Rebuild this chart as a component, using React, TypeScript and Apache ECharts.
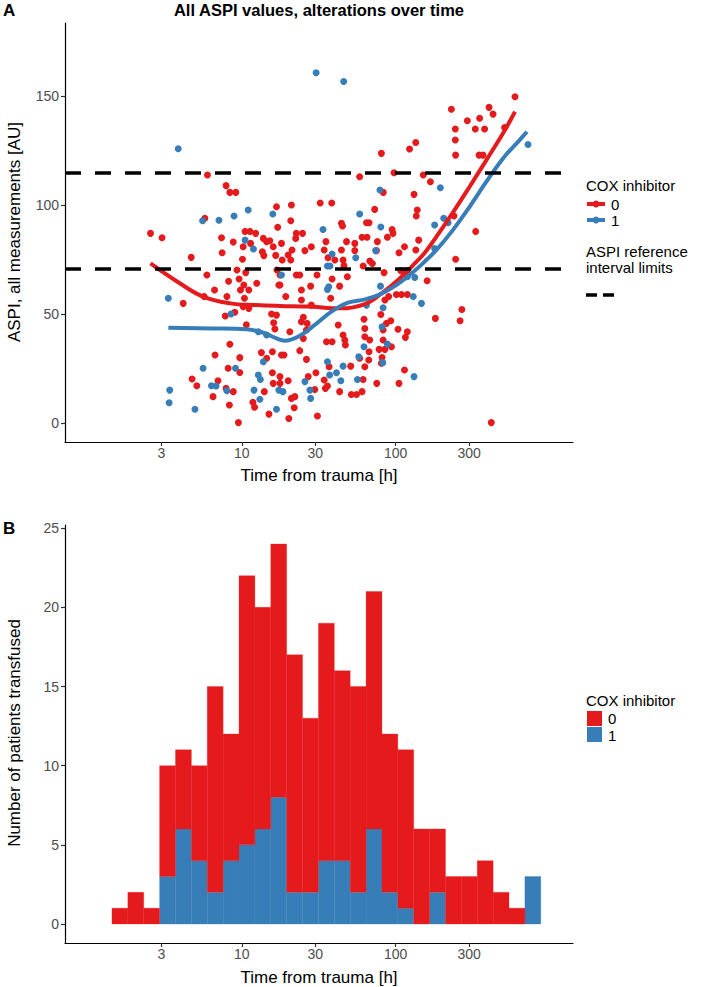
import React, { useEffect, useRef } from "react";
import * as echarts from "echarts";

const RED = "#E41A1C";
const BLUE = "#377EB8";
const FONT = "'Liberation Sans',Arial,Helvetica,sans-serif";

// ---------- Panel A: ASPI values (hours from trauma, ASPI [AU]) ----------
const aspiCox0: [number, number][] = [
  [5.98,113.8],[7.9,108.9],[8.36,105.8],[9.14,105.8],[5.75,93.9],[17.1,89.8],[16.8,99.2],[2.55,87],[3.03,85],[7.38,85],
  [10.5,87.9],[11.3,87.9],[12.3,87],[8.8,83],[11.4,82.4],[13.8,84.7],[14.5,83.2],[15.2,83.6],[13.6,78.6],[16,80.9],
  [7.45,78.1],[10.2,80.9],[16.6,76.9],[4.69,76],[10.1,75.1],[13.9,76.8],[16.9,70.2],[9.3,70.2],[10.6,69],[5.93,67.9],
  [9.6,66.1],[8.2,65],[10.3,63.3],[12.5,64.1],[6.65,61],[9.8,61],[11.1,61],[17.4,63.3],[4.16,54.9],[5.69,58],
  [8,58],[10.4,57.2],[10.2,53.4],[11.1,52.6],[9,50.8],[7.8,49.1],[15.6,50],[16.8,49.5],[16.1,46],[10.7,45.1],
  [16.4,43.1],[8.36,36.1],[6.7,31.2],[9.7,30],[13.4,32.3],[15.8,32.7],[14.5,29.7],[8.15,25.1],[9.7,23.2],[15.8,23.1],
  [4.75,20.2],[7,19.4],[5.1,17.1],[16,18.2],[7.9,15.9],[8.8,14.4],[14,14.4],[6.5,12.1],[11.8,9.5],[12.1,7.2],
  [8.3,8.3],[15,4.1],[9.5,0.2],
  [135,128.7],[123,125.7],[80.7,123.7],[58.3,113],[97.5,114.8],[151,113.8],[83,105.8],[131.5,104.9],[21,100],[32.3,100.9],
  [38.4,100.9],[73,98],[138,97.7],[136,95],[20.8,92.8],[44.4,91.6],[45.1,90.4],[64.6,91.9],[67.1,91.9],[94.7,88.8],
  [96,87],[22.6,87],[24.8,87],[22.4,84.7],[18.1,82.4],[35.2,83.2],[47.9,83.2],[54.2,82.4],[60.4,85.2],[65.1,85.2],
  [76,83.2],[88.3,85.2],[141,83.9],[25.7,79.1],[28.3,80.9],[34.3,79.4],[44.4,79.4],[54.2,79.1],[105,78.1],[114,80.9],
  [135,79.4],[75,79.1],[21.2,79.4],[20,77.1],[18.3,74.8],[20.8,74.8],[36.3,75.8],[40.2,74.8],[45.5,74.8],[67.8,74.3],
  [70.5,73.2],[46.1,72.2],[61.4,72],[17.7,67.9],[22.6,67.9],[23.8,67.9],[30.8,67.9],[38.6,66.1],[48.5,67.1],[84,69],
  [108,69.9],[119,69.9],[17.7,63.3],[19.3,58],[24.4,61],[28,62.8],[43.2,62.8],[24.4,56.4],[28.3,54.1],[37.8,57.2],
  [85,56.4],[90,58],[101,59],[109,59],[119,59],[25.1,48.5],[26.6,45.7],[24.4,46.5],[26.3,42.7],[42.3,45],
  [62.2,47.6],[80,49.8],[92.9,46.9],[86.9,45.7],[82.8,42.7],[103.5,43],[119,41.9],[115.6,39.3],[63,43.4],[20.5,41.9],
  [63,39.6],[45.5,40.4],[46.7,38.1],[47.1,35.8],[35.5,37.3],[38.6,37.3],[25.1,38.8],[67.8,38.1],[82.8,38.1],[93.8,35],
  [85,33.8],[23.8,33.2],[18.1,31.2],[18.8,31.2],[78,33.8],[67.1,32.7],[66.8,28.9],[58.3,29.7],[51,26.1],[26.3,29.2],
  [36.9,25.8],[30.3,23.1],[27,21.3],[63,25.8],[81.5,30.1],[80.7,27.4],[114,24.3],[105,18.2],[75.3,18.2],[61.4,20],
  [34.3,19.7],[36,17],[34.9,15.9],[17.7,21.3],[20,19.4],[17.7,18.2],[21,11.3],[22.1,12.1],[29.8,15.4],[43.2,14.4],
  [51.5,13.1],[55.6,13.1],[60.4,14.4],[31,3.2],[20.2,2.1],[21.9,7],
  [596,149.7],[230,143.9],[404,144.8],[429,141.7],[351,139.8],[292,138.7],[244,134.9],[329,134.9],[378,134.9],[510,135.6],
  [244,129.8],[245,122.9],[348,122.9],[369,122.9],[168,110.7],[239,95],[331,87.9],[245,75.1],[160,65.3],[181,48],
  [269,52.1],[262,46.9],[418,0.2]
];

const aspiCox1: [number, number][] = [
  [3.86,125.8],[11,97.7],[8.9,95],[7.1,93],[5.56,92.8],[15.9,95.9],[10.5,83.9],[11.9,79.8],[3.33,57.2],[8.5,50],
  [12.8,41.9],[14.5,40.4],[13.8,28.1],[5.6,25.1],[9.1,25.1],[12.8,22],[13.2,20],[6.35,17.1],[6.8,17],[8,14.8],
  [12,15.1],[17.4,15.1],[3.4,15.1],[3.37,9.3],[13.1,10.9],[4.96,6.3],[16.8,6.3],
  [30.4,160.7],[45.9,156.7],[79,106.9],[58.3,95.9],[33.7,88.8],[80,89.9],[38.6,77.5],[55,75.8],[74,79.1],
  [36,72],[37.4,72],[18.1,67.9],[119,67.1],[133,66.8],[36,61.3],[36.7,62.5],[130,58],[147,54.9],[79.6,62.8],
  [64.6,54.1],[82.8,52.9],[81.5,44.2],[88.3,36.2],[62.2,35],[57.5,30.4],[36,28.1],[45.5,26.1],[41.2,23.1],[37.2,22],
  [82.4,27.7],[131.5,21.3],[56.4,20],[44,19.4],[25.7,19],[18.5,14.4],[27.7,15.1],[28,11.3],
  [724,127.8],[195,107.9],[179,90.8],[205,93.9],[219,91.9],[179,80.1]
];

// loess smooth curves
const smoothCox0: [number, number][] = [
  [2.55,73.2],[3.95,64.1],[5.6,58],[8.4,54.9],[12.4,54.1],[17.7,53.7],[27,53.4],[44,52.6],[63,54.6],[81,59.5],
  [103.5,65.6],[133,73.2],[154,78],[184,85.5],[235,96.5],[302,108.4],[388,120.6],[498,132.9],[596,142.8]
];
const smoothCox1: [number, number][] = [
  [3.33,43.7],[6.5,43.4],[10.7,43],[13.8,41.4],[16.8,38.8],[19,37.8],[23.2,39.6],[29.8,45],[38.2,51.1],[49,55.2],
  [63,56.7],[77,58.7],[98.6,62.8],[127,68.7],[154,74],[184,79.4],[235,88.5],[302,99.2],[388,110.7],[498,121.4],
  [638,129.8],[713,133.6]
];

const referenceLimits = [71, 115];
const xTickHours = [3, 10, 30, 100, 300];
const yTicksA = [0, 50, 100, 150];
const yTicksB = [0, 5, 10, 15, 20, 25];

// ---------- Panel B: histogram (log10-spaced bins) ----------
const histBinStartLog10 = 0.053;
const histBinWidthLog10 = 0.1032;
const histCox0 = [0,1,2,1,7,5,6,13,8,17,14,16,15,11,15,12,13,15,10,10,6,4,3,3,4,2,1,0];
const histCox1 = [0,0,0,0,3,6,4,2,4,5,6,8,2,2,4,4,2,6,2,1,0,2,0,0,0,0,0,3];

const lg = (h: number) => Math.log10(h);
const toLog = (arr: [number, number][]) => arr.map(([h, v]) => [lg(h), v]);

export default function App() {
  const ref = useRef<HTMLDivElement>(null);
  useEffect(() => {
    if (!ref.current) return;
    const chart = echarts.init(ref.current, undefined, { renderer: "svg" });

    const xMin = -0.149, xMax = 3.152;
    const tickLogs = xTickHours.map(lg);
    const makeX = (gridIndex: number) => ({
      type: "value", gridIndex, min: xMin, max: xMax,
      axisLine: { show: true, onZero: false, lineStyle: { color: "#000", width: 1.2 } },
      axisTick: { show: true, length: 4, lineStyle: { color: "#333", width: 1.2 }, customValues: tickLogs },
      axisLabel: {
        customValues: tickLogs, margin: 4, color: "#4d4d4d", fontSize: 14, fontFamily: FONT,
        formatter: (v: number) => String(Math.round(Math.pow(10, v)))
      },
      splitLine: { show: false }
    });
    const makeY = (gridIndex: number, min: number, max: number, ticks: number[]) => ({
      type: "value", gridIndex, min, max,
      axisLine: { show: true, onZero: false, lineStyle: { color: "#000", width: 1.2 } },
      axisTick: { show: true, length: 4, lineStyle: { color: "#333", width: 1.2 }, customValues: ticks },
      axisLabel: { customValues: ticks, margin: 6, color: "#4d4d4d", fontSize: 14, fontFamily: FONT },
      splitLine: { show: false }
    });

    const binEdges = histCox0.map((_, i) => histBinStartLog10 + i * histBinWidthLog10);
    const blueRects = histCox1.map((c, i) => [binEdges[i], binEdges[i] + histBinWidthLog10, 0, c]);
    const redRects = histCox0.map((c, i) => [binEdges[i], binEdges[i] + histBinWidthLog10, histCox1[i], histCox1[i] + c]);
    const rectRender = (color: string) => (params: any, api: any) => {
      if (api.value(3) === api.value(2)) return null;
      const p0 = api.coord([api.value(0), api.value(3)]);
      const p1 = api.coord([api.value(1), api.value(2)]);
      return {
        type: "rect",
        shape: { x: p0[0], y: p0[1], width: p1[0] - p0[0], height: p1[1] - p0[1] },
        style: { fill: color, stroke: color, lineWidth: 0.3 }
      };
    };

    const legendText = (x: number, y: number, text: string) => ({
      type: "text", x, y,
      style: { text, fill: "#000", fontSize: 15, fontFamily: FONT, align: "left", verticalAlign: "middle", textAlign: "left", textVerticalAlign: "middle" }
    });
    const centered = (x: number, y: number, text: string, size: number, bold = false, rot = 0) => ({
      type: "text", x, y, rotation: rot,
      style: {
        text, fill: "#000", fontSize: size, fontWeight: bold ? "bold" : "normal", fontFamily: FONT,
        align: "center", verticalAlign: "middle", textAlign: "center", textVerticalAlign: "middle"
      }
    });

    const option: any = {
      animation: false,
      backgroundColor: "#fff",
      grid: [
        { left: 65, top: 23, width: 508, height: 419 },
        { left: 65, top: 525, width: 508, height: 418 }
      ],
      xAxis: [makeX(0), makeX(1)],
      yAxis: [makeY(0, -8.7, 183.5, yTicksA), makeY(1, -1.2, 25.2, yTicksB)],
      series: [
        {
          type: "scatter", name: "0", xAxisIndex: 0, yAxisIndex: 0, data: toLog(aspiCox0),
          symbolSize: 7, itemStyle: { color: RED, opacity: 1 }, z: 2
        },
        {
          type: "scatter", name: "1", xAxisIndex: 0, yAxisIndex: 0, data: toLog(aspiCox1),
          symbolSize: 7, itemStyle: { color: BLUE, opacity: 1 }, z: 2
        },
        {
          type: "line", xAxisIndex: 0, yAxisIndex: 0, data: toLog(smoothCox0), smooth: 0.4,
          showSymbol: false, lineStyle: { color: RED, width: 4 }, z: 3
        },
        {
          type: "line", xAxisIndex: 0, yAxisIndex: 0, data: toLog(smoothCox1), smooth: 0.4,
          showSymbol: false, lineStyle: { color: BLUE, width: 4 }, z: 4,
          markLine: {
            silent: true, symbol: "none", label: { show: false },
            lineStyle: { color: "#000", width: 3.5, type: [16, 14] },
            data: referenceLimits.map((v) => ({ yAxis: v }))
          }
        },
        {
          type: "custom", xAxisIndex: 1, yAxisIndex: 1, data: blueRects,
          encode: { x: [0, 1], y: [2, 3] }, renderItem: rectRender(BLUE)
        },
        {
          type: "custom", xAxisIndex: 1, yAxisIndex: 1, data: redRects,
          encode: { x: [0, 1], y: [2, 3] }, renderItem: rectRender(RED)
        }
      ],
      graphic: [
        { type: "text", x: 3, y: 10, style: { text: "A", fill: "#000", fontSize: 17, fontWeight: "bold", fontFamily: FONT, verticalAlign: "middle", textVerticalAlign: "middle" } },
        { type: "text", x: 3, y: 528, style: { text: "B", fill: "#000", fontSize: 17, fontWeight: "bold", fontFamily: FONT, verticalAlign: "middle", textVerticalAlign: "middle" } },
        centered(319, 10, "All ASPI values, alterations over time", 16.5, true),
        centered(319, 475, "Time from trauma [h]", 17),
        centered(319, 977, "Time from trauma [h]", 17),
        centered(14, 232, "ASPI, all measurements [AU]", 17, false, Math.PI / 2),
        centered(14, 733, "Number of patients transfused", 17, false, Math.PI / 2),
        // legend A
        legendText(586, 185, "COX inhibitor"),
        { type: "line", shape: { x1: 587, y1: 204, x2: 605, y2: 204 }, style: { stroke: RED, lineWidth: 4 } },
        { type: "circle", shape: { cx: 596, cy: 204, r: 3.5 }, style: { fill: RED } },
        legendText(611, 204, "0"),
        { type: "line", shape: { x1: 587, y1: 220, x2: 605, y2: 220 }, style: { stroke: BLUE, lineWidth: 4 } },
        { type: "circle", shape: { cx: 596, cy: 220, r: 3.5 }, style: { fill: BLUE } },
        legendText(611, 220, "1"),
        legendText(586, 251, "ASPI reference"),
        legendText(586, 267, "interval limits"),
        { type: "line", shape: { x1: 586, y1: 295, x2: 617, y2: 295 }, style: { stroke: "#000", lineWidth: 3.5, lineDash: [11, 6] } },
        // legend B
        legendText(586, 700, "COX inhibitor"),
        { type: "rect", shape: { x: 587, y: 711, width: 15, height: 15 }, style: { fill: RED } },
        legendText(608, 718, "0"),
        { type: "rect", shape: { x: 587, y: 727, width: 15, height: 15 }, style: { fill: BLUE } },
        legendText(608, 735, "1")
      ]
    };
    chart.setOption(option);
    return () => chart.dispose();
  }, []);
  return <div ref={ref} style={{ position: "absolute", left: 0, top: 0, width: 708, height: 987 }} />;
}
